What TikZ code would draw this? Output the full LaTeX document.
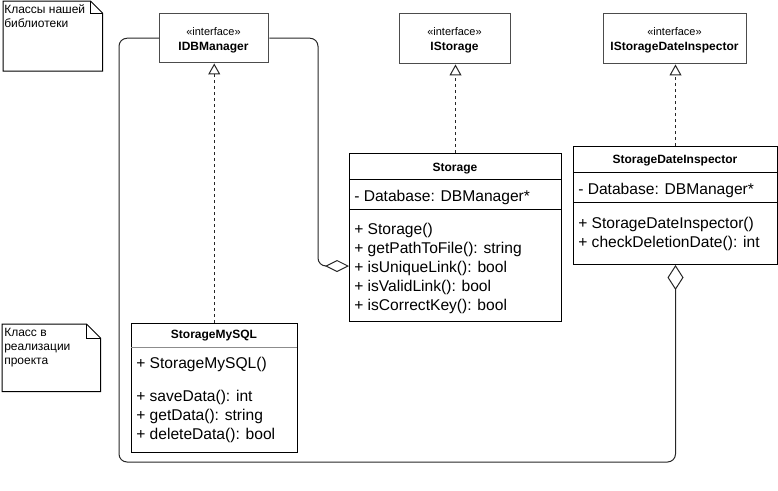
\documentclass[tikz,border=0pt]{standalone}
\usepackage{fontspec}
\setmainfont{Liberation Sans}
\usetikzlibrary{arrows.meta,calc}
\begin{document}
\begin{tikzpicture}[x=0.75pt,y=-0.75pt,
  box/.style={draw=black, line width=0.75pt, inner sep=0, anchor=north west},
  iface/.style={draw=black!70, line width=1.1pt, inner sep=0, anchor=north west},
  notebox/.style={inner sep=0, anchor=north west},
  mem/.style={anchor=base west, inner sep=0, font=\fontsize{11.7}{14}\selectfont},
  ttl/.style={anchor=base, inner sep=0, font=\bfseries\fontsize{9}{11}\selectfont},
  ster/.style={anchor=base, inner sep=0, font=\fontsize{8.25}{10}\selectfont},
  notetxt/.style={anchor=base west, inner sep=0, font=\fontsize{9}{10.5}\selectfont},
  realize/.style={draw=black!85, line width=0.75pt, dash pattern=on 2.25pt off 2.25pt,
    -{Triangle[open,length=8.25pt,width=9pt]}},
  agg/.style={draw=black!85, line width=0.75pt, rounded corners=6pt},
  sep/.style={draw=black, line width=0.75pt}
]
\useasboundingbox (0,0) rectangle (778,490);

% ---- notes ----
\node[notebox, minimum width=74.25pt, minimum height=52.125pt] (n1) at (3,1) {};
\draw[line width=0.75pt] (n1.north west) -- ($(n1.north east)+(-12,0)$) -- ($(n1.north east)+(0,12)$)
   -- (n1.south east) -- (n1.south west) -- cycle;
\draw[line width=0.75pt] ($(n1.north east)+(-12,0)$) -- ($(n1.north east)+(-12,12)$) -- ($(n1.north east)+(0,12)$);
\node[notetxt] (n1a) at (4,13) {Классы нашей};
\node[notetxt] (n1b) at (4,27) {библиотеки};

\node[notebox, minimum width=73.5pt, minimum height=50.25pt] (n2) at (2,324) {};
\draw[line width=0.75pt] (n2.north west) -- ($(n2.north east)+(-14,0)$) -- ($(n2.north east)+(0,14)$)
   -- (n2.south east) -- (n2.south west) -- cycle;
\draw[line width=0.75pt] ($(n2.north east)+(-14,0)$) -- ($(n2.north east)+(-14,14)$) -- ($(n2.north east)+(0,14)$);
\node[notetxt] (n2a) at (4,336) {Класс в};
\node[notetxt] (n2b) at (4,350) {реализации};
\node[notetxt] (n2c) at (4,364) {проекта};

% ---- interfaces ----
\node[iface, minimum width=81.75pt, minimum height=36.75pt] (idb) at (159,13) {};
\node[ster] (idbs) at (213.5,35.5) {«interface»};
\node[ttl] (idbt) at (213.5,50) {IDBManager};

\node[iface, minimum width=83.25pt, minimum height=37.5pt] (ist) at (399,13) {};
\node[ster] (ists) at (454.5,35.5) {«interface»};
\node[ttl] (istt) at (454.5,50) {IStorage};

\node[iface, minimum width=107.25pt, minimum height=37.5pt] (isdi) at (603,13) {};
\node[ster] (isdis) at (674.5,35.5) {«interface»};
\node[ttl] (isdit) at (674.5,50) {IStorageDateInspector};

% ---- Storage ----
\node[box, minimum width=159pt, minimum height=126pt] (st) at (349,153) {};
\draw[sep] (349,179) -- (561,179);
\draw[sep] (349,209) -- (561,209);
\node[ttl] (stt) at (455,171) {Storage};
\node[mem] (st0) at (354,201.5) {- Database: DBManager*};
\node[mem] (st1) at (354,234.5) {+ Storage()};
\node[mem] (st2) at (354,253.5) {+ getPathToFile(): string};
\node[mem] (st3) at (354,272.5) {+ isUniqueLink(): bool};
\node[mem] (st4) at (354,291.5) {+ isValidLink(): bool};
\node[mem] (st5) at (354,310.5) {+ isCorrectKey(): bool};
\coordinate (stagg) at (349,266);

% ---- StorageDateInspector ----
\node[box, minimum width=153pt, minimum height=88.5pt] (sdi) at (573,146) {};
\draw[sep] (573,172) -- (777,172);
\draw[sep] (573,202) -- (777,202);
\node[ttl] (sdit) at (675,163.5) {StorageDateInspector};
\node[mem] (sdi0) at (578,194) {- Database: DBManager*};
\node[mem] (sdi1) at (578,228.5) {+ StorageDateInspector()};
\node[mem] (sdi2) at (578,247.5) {+ checkDeletionDate(): int};

% ---- StorageMySQL ----
\node[box, minimum width=124.5pt, minimum height=96.75pt] (smy) at (131,323) {};
\draw[draw=black!45, line width=0.75pt] (131,347) -- (297,347);
\node[ttl] (smyt) at (214,338.5) {StorageMySQL};
\node[mem] (smy0) at (136,368.5) {+ StorageMySQL()};
\node[mem] (smy1) at (136,401.5) {+ saveData(): int};
\node[mem] (smy2) at (136,420.5) {+ getData(): string};
\node[mem] (smy3) at (136,439.5) {+ deleteData(): bool};

% ---- realizations ----
\draw[realize] (smy.north -| idb.south) -- (idb.south);
\draw[realize] (st.north) -- (st.north |- ist.south);
\draw[realize] (sdi.south |- sdi.north) -- (sdi.north |- isdi.south);

% ---- aggregations ----
\draw[agg, -{Diamond[open,length=18pt,width=9pt]}] (idb.east) -| (318,266) -- (stagg);
\draw[agg, {Diamond[open,length=18.75pt,width=12pt]}-] (sdi.south) |- (119,462) |- (idb.west);
\end{tikzpicture}
\end{document}
